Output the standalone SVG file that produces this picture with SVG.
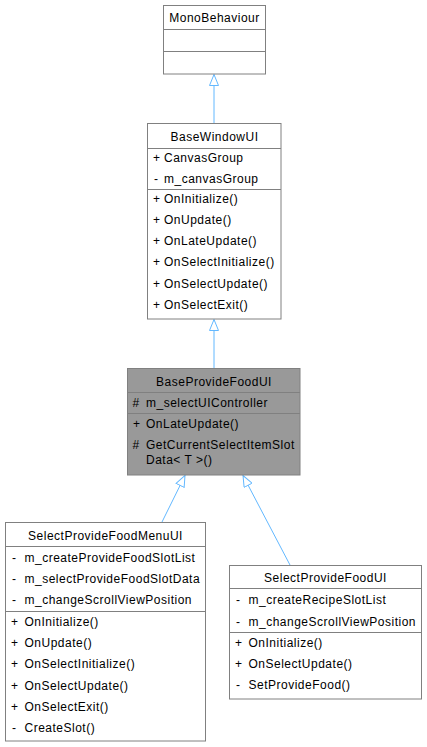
<svg xmlns="http://www.w3.org/2000/svg" width="427" height="747" viewBox="0 0 427 747">
<style>
text{font-family:"Liberation Sans",Arial,sans-serif;font-size:12px;letter-spacing:0.5px;fill:#000}
.t{text-anchor:middle}
.box{fill:#fff;stroke:#808080;stroke-width:1}
.cur{fill:#999999;stroke:#808080;stroke-width:1}
.div{stroke:#808080;stroke-width:1;fill:none}
.edge{stroke:#63b8ff;stroke-width:1;fill:none;marker-end:url(#inh)}
</style>
<defs>
<marker id="inh" markerUnits="userSpaceOnUse" viewBox="0 0 12 10" markerWidth="12" markerHeight="10" refX="11.5" refY="5" orient="auto">
<path d="M0.5,0.5 L11.5,5 L0.5,9.5 Z" fill="#fff" stroke="#63b8ff" stroke-width="1"/>
</marker>
</defs>
<g id="edges">
<path class="edge" d="M214,123.5 L214,74.5"/>
<path class="edge" d="M214,368 L214,319.5"/>
<path class="edge" d="M162,522 L185,475.5"/>
<path class="edge" d="M290,565 L243,475.5"/>
</g>
<g id="MonoBehaviour">
<rect class="box" x="163.5" y="5.5" width="102" height="68.5"/>
<line class="div" x1="163.5" y1="29.5" x2="265.5" y2="29.5"/>
<line class="div" x1="163.5" y1="51.5" x2="265.5" y2="51.5"/>
<text class="t" x="214.5" y="22">MonoBehaviour</text>
</g>
<g id="BaseWindowUI">
<rect class="box" x="147.5" y="123.5" width="133.5" height="195.5"/>
<line class="div" x1="147.5" y1="148.5" x2="281" y2="148.5"/>
<line class="div" x1="147.5" y1="189.5" x2="281" y2="189.5"/>
<text class="t" x="214.5" y="141">BaseWindowUI</text>
<text x="153" y="162">+</text><text x="164" y="162">CanvasGroup</text>
<text x="154" y="183">-</text><text x="164" y="183">m_canvasGroup</text>
<text x="153" y="202.5">+</text><text x="164" y="202.5">OnInitialize()</text>
<text x="153" y="223.8">+</text><text x="164" y="223.8">OnUpdate()</text>
<text x="153" y="245.1">+</text><text x="164" y="245.1">OnLateUpdate()</text>
<text x="153" y="266.4">+</text><text x="164" y="266.4">OnSelectInitialize()</text>
<text x="153" y="287.7">+</text><text x="164" y="287.7">OnSelectUpdate()</text>
<text x="153" y="309">+</text><text x="164" y="309">OnSelectExit()</text>
</g>
<g id="BaseProvideFoodUI">
<rect class="cur" x="127.5" y="368.5" width="172.5" height="106.5"/>
<line class="div" x1="127.5" y1="392.5" x2="300" y2="392.5"/>
<line class="div" x1="127.5" y1="413.5" x2="300" y2="413.5"/>
<text class="t" x="214" y="385.5">BaseProvideFoodUI</text>
<text x="132.5" y="407">#</text><text x="146" y="407">m_selectUIController</text>
<text x="133" y="428">+</text><text x="146" y="428">OnLateUpdate()</text>
<text x="132.5" y="449">#</text><text x="146" y="449">GetCurrentSelectItemSlot</text>
<text x="146" y="464">Data&lt; T &gt;()</text>
</g>
<g id="SelectProvideFoodMenuUI">
<rect class="box" x="5.5" y="522.5" width="200" height="218.5"/>
<line class="div" x1="5.5" y1="546.5" x2="205.5" y2="546.5"/>
<line class="div" x1="5.5" y1="611.5" x2="205.5" y2="611.5"/>
<text class="t" x="105.5" y="539.5">SelectProvideFoodMenuUI</text>
<text x="12" y="561.5">-</text><text x="24.5" y="561.5">m_createProvideFoodSlotList</text>
<text x="12" y="582.5">-</text><text x="24.5" y="582.5">m_selectProvideFoodSlotData</text>
<text x="12" y="603.5">-</text><text x="24.5" y="603.5">m_changeScrollViewPosition</text>
<text x="11" y="626">+</text><text x="24.5" y="626">OnInitialize()</text>
<text x="11" y="647">+</text><text x="24.5" y="647">OnUpdate()</text>
<text x="11" y="668">+</text><text x="24.5" y="668">OnSelectInitialize()</text>
<text x="11" y="689.5">+</text><text x="24.5" y="689.5">OnSelectUpdate()</text>
<text x="11" y="710.5">+</text><text x="24.5" y="710.5">OnSelectExit()</text>
<text x="12" y="731.5">-</text><text x="24.5" y="731.5">CreateSlot()</text>
</g>
<g id="SelectProvideFoodUI">
<rect class="box" x="229.5" y="565.5" width="192" height="133.5"/>
<line class="div" x1="229.5" y1="588.5" x2="421.5" y2="588.5"/>
<line class="div" x1="229.5" y1="632.5" x2="421.5" y2="632.5"/>
<text class="t" x="325.5" y="582">SelectProvideFoodUI</text>
<text x="236" y="603.5">-</text><text x="248.5" y="603.5">m_createRecipeSlotList</text>
<text x="236" y="626">-</text><text x="248.5" y="626">m_changeScrollViewPosition</text>
<text x="235" y="647">+</text><text x="248.5" y="647">OnInitialize()</text>
<text x="235" y="668">+</text><text x="248.5" y="668">OnSelectUpdate()</text>
<text x="236" y="689">-</text><text x="248.5" y="689">SetProvideFood()</text>
</g>
</svg>
